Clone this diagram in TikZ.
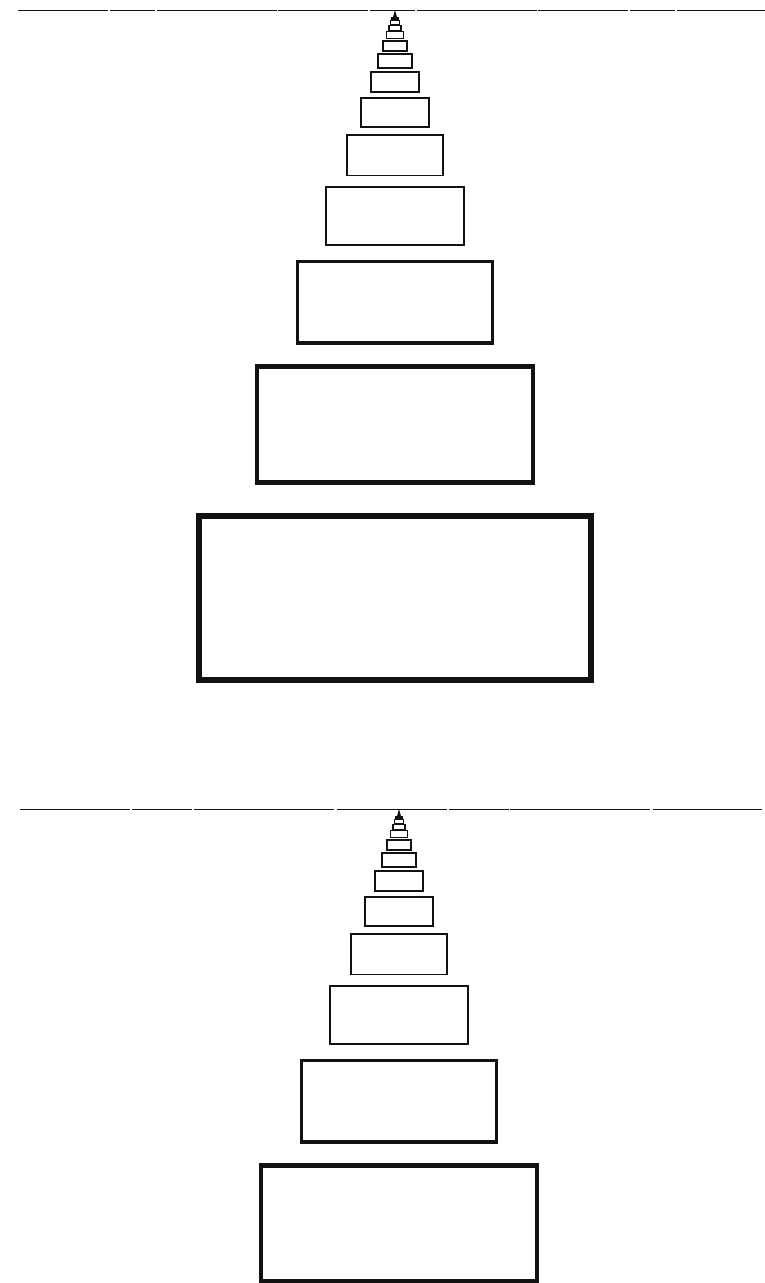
\documentclass[tikz,border=0pt]{standalone}
\usetikzlibrary{calc}
\definecolor{inkblack}{RGB}{18,18,18}
\tikzset{
  horizon/.style={draw=inkblack,line width=0.85pt,
    dash pattern=on 90pt off 1.5pt on 45pt off 2pt on 120pt off 1.5pt},
  slab/.style={draw=inkblack,line join=miter},
  apex/.style={fill=inkblack}
}
\newcommand{\shrink}{0.705}

\begin{document}
\begin{tikzpicture}[x=1pt,y=-1pt]
  \fill[white] (0,0) rectangle (765,1283);
  \useasboundingbox (0,0) rectangle (765,1283);

  % upper row of slabs
  \coordinate (vpA) at (395,10);
  \coordinate (hAl) at (18,10);
  \coordinate (hAr) at (765,10);
  \draw[horizon] (hAl) -- (hAr);
  \foreach \n in {0,...,12}{
    \pgfmathsetmacro\dist{670*\shrink^\n}
    \pgfmathsetmacro\lw{\n>8 ? 1.3 : max(1.9,6*0.72^\n)}
    \draw[slab,line width=\lw pt]
      ($(vpA)+(-0.2925*\dist,0.755*\dist)$) rectangle ($(vpA)+(0.2925*\dist,\dist)$);
  }
  \fill[apex] (vpA) -- ++(-2.5,9) -- ++(5,0) -- cycle;

  % lower row of slabs
  \coordinate (vpB) at (399,809);
  \coordinate (hBl) at (20,809);
  \coordinate (hBr) at (762,809);
  \draw[horizon,dash pattern=on 110pt off 2pt on 60pt off 1.5pt on 140pt off 3pt] (hBl) -- (hBr);
  \foreach \n in {1,...,12}{
    \pgfmathsetmacro\dist{670*\shrink^\n}
    \pgfmathsetmacro\lw{\n>8 ? 1.3 : max(1.9,6*0.72^\n)}
    \draw[slab,line width=\lw pt]
      ($(vpB)+(-0.2925*\dist,0.755*\dist)$) rectangle ($(vpB)+(0.2925*\dist,\dist)$);
  }
  \fill[apex] (vpB) -- ++(-2.5,9) -- ++(5,0) -- cycle;
\end{tikzpicture}
\end{document}
